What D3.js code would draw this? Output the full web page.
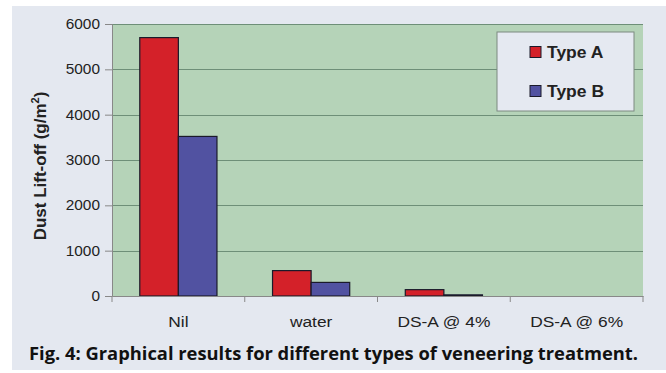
<!DOCTYPE html>
<html>
<head>
<meta charset="utf-8">
<title>Dust lift-off</title>
<script src="https://cdn.jsdelivr.net/npm/d3@7"></script>
<style>
  body { margin: 0; background: #fff; }
  svg { display: block; }
</style>
</head>
<body>
<svg id="svg"></svg>
<script>
var categories = ["Nil", "water", "DS-A @ 4%", "DS-A @ 6%"];
var seriesNames = ["Type A", "Type B"];
var typeA = [5700, 560, 140, 0];
var typeB = [3520, 300, 25, 0];
var yTicks = [0, 1000, 2000, 3000, 4000, 5000, 6000];
var caption = "Fig. 4: Graphical results for different types of veneering treatment.";

var WIDTH = 666, HEIGHT = 373;
// plot area edges (note: "top" is reserved on window, so use PLOT_* names)
var PLOT_L = 112, PLOT_R = 643, PLOT_T = 24, PLOT_B = 296;
var colors = ["#d42129", "#5152a1"];
var FONT = "Liberation Sans, Arial, sans-serif";

// the original figure looks a bit wider than tall, widen text to match
function stretch(sel, k) {
  sel.each(function() {
    var w = this.getComputedTextLength();
    d3.select(this).attr("textLength", w * k).attr("lengthAdjust", "spacingAndGlyphs");
  });
}

var svg = d3.select("#svg").attr("width", WIDTH).attr("height", HEIGHT);

// panel background
svg.append("rect").attr("x", 12).attr("y", 6).attr("width", WIDTH - 12).attr("height", 364)
   .attr("fill", "#e4e8f0");

var x = d3.scaleBand().domain(categories).range([PLOT_L, PLOT_R]);
var xInner = d3.scaleBand().domain(seriesNames).range([0, x.bandwidth()]).paddingInner(0).paddingOuter(0.72);
var y = d3.scaleLinear().domain([0, 6000]).range([PLOT_B, PLOT_T]);

// plot area
svg.append("rect").attr("x", PLOT_L).attr("y", PLOT_T).attr("width", PLOT_R - PLOT_L).attr("height", PLOT_B - PLOT_T)
   .attr("fill", "#b5d3b8");

// gridlines
svg.append("g").selectAll("line").data(yTicks.filter(function(d){ return d > 0; })).enter()
   .append("line")
   .attr("x1", PLOT_L).attr("x2", PLOT_R)
   .attr("y1", function(d){ return Math.round(y(d)) + 0.5; })
   .attr("y2", function(d){ return Math.round(y(d)) + 0.5; })
   .attr("stroke", "#6e8f78").attr("stroke-width", 1);

// bars
var rows = categories.map(function(c, i){ return {cat: c, vals: [typeA[i], typeB[i]]}; });
var groups = svg.append("g").selectAll("g").data(rows).enter().append("g")
   .attr("transform", function(d){ return "translate(" + x(d.cat) + ",0)"; });
groups.selectAll("rect").data(function(d){
      return d.vals.map(function(v, j){ return {name: seriesNames[j], v: v, j: j}; });
   }).enter().append("rect")
   .attr("x", function(d){ return xInner(d.name); })
   .attr("width", xInner.bandwidth())
   .attr("y", function(d){ return y(d.v); })
   .attr("height", function(d){ return y(0) - y(d.v); })
   .attr("fill", function(d){ return colors[d.j]; })
   .attr("stroke", "#1a1a2a").attr("stroke-width", 1.2);

// y axis
var yAxis = svg.append("g").attr("transform", "translate(" + PLOT_L + ",0)")
   .call(d3.axisLeft(y).tickValues(yTicks).tickSize(7).tickPadding(5).tickFormat(d3.format("d")));
yAxis.select(".domain").attr("stroke", "#888");
yAxis.selectAll(".tick line").attr("stroke", "#888");
yAxis.selectAll("text").attr("font-family", FONT)
   .attr("font-size", 14).attr("fill", "#222").call(stretch, 1.1);

// x axis
var xAxis = svg.append("g").attr("transform", "translate(0," + PLOT_B + ")")
   .call(d3.axisBottom(x).tickSize(0).tickPadding(20));
xAxis.select(".domain").attr("stroke", "#888");
xAxis.selectAll("text").attr("font-family", FONT)
   .attr("font-size", 15.5).attr("fill", "#222").call(stretch, 1.12);
svg.append("g").selectAll("line").data(categories.concat(["end"])).enter().append("line")
   .attr("x1", function(d, i){ return PLOT_L + i * x.bandwidth(); })
   .attr("x2", function(d, i){ return PLOT_L + i * x.bandwidth(); })
   .attr("y1", PLOT_B).attr("y2", PLOT_B + 6)
   .attr("stroke", "#888");

// y label
var yl = svg.append("text")
   .attr("transform", "translate(46,166) rotate(-90)")
   .attr("text-anchor", "middle")
   .attr("font-family", FONT)
   .attr("font-weight", "bold").attr("font-size", 17).attr("fill", "#222");
yl.append("tspan").text("Dust Lift-off (g/m");
yl.append("tspan").attr("dy", -7).attr("font-size", 11).text("2");
yl.append("tspan").attr("dy", 7).text(")");

// legend
var lg = svg.append("g").attr("transform", "translate(497,32)");
lg.append("rect").attr("width", 137).attr("height", 79).attr("fill", "#e5e9f1")
  .attr("stroke", "#7d8a80").attr("stroke-width", 1);
seriesNames.forEach(function(n, i){
  var cy = 20 + i * 39;
  lg.append("rect").attr("x", 33).attr("y", cy - 5.5).attr("width", 11).attr("height", 11)
    .attr("fill", colors[i]).attr("stroke", "#1a1a2a").attr("stroke-width", 1);
  lg.append("text").attr("x", 50).attr("y", cy + 6).text(n)
    .attr("font-family", FONT)
    .attr("font-weight", "bold").attr("font-size", 16.5).attr("fill", "#222")
    .call(stretch, 1.06);
});

// caption
svg.append("text").attr("x", 29).attr("y", 359.5).text(caption)
   .attr("font-family", "Open Sans, Noto Sans, sans-serif")
   .attr("font-weight", "bold").attr("font-size", 18).attr("fill", "#111")
   .attr("textLength", 609).attr("lengthAdjust", "spacingAndGlyphs");
</script>
</body>
</html>
